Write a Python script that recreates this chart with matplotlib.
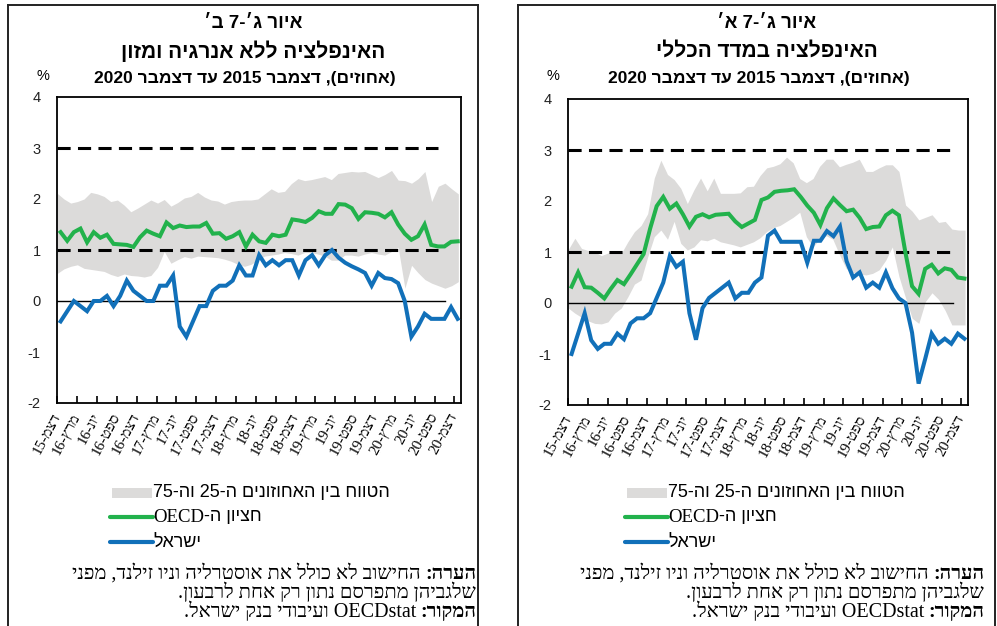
import re
import numpy as np
import matplotlib
matplotlib.use('Agg')
import matplotlib.pyplot as plt
from matplotlib.lines import Line2D
from matplotlib.patches import Rectangle

W, H = 997, 626
plt.rcParams['axes.unicode_minus'] = False
SANS = ['Liberation Sans', 'DejaVu Sans']
SERIF = ['Liberation Serif', 'DejaVu Sans']

GREEN = '#22b24c'
BLUE = '#1170b9'
GRAY = '#dcdbda'

# monthly, Dec 2015 .. Dec 2020 (61 points)
tick_labels = ['דצמ-15', 'מרץ-16', 'יונ-16', 'ספט-16', 'דצמ-16', 'מרץ-17', 'יונ-17',
               'ספט-17', 'דצמ-17', 'מרץ-18', 'יונ-18', 'ספט-18', 'דצמ-18', 'מרץ-19',
               'יונ-19', 'ספט-19', 'דצמ-19', 'מרץ-20', 'יונ-20', 'ספט-20', 'דצמ-20']

# --- panel ב: excluding energy and food
core_israel = [-0.4, -0.2, 0.0, -0.1, -0.2, 0.0, 0.0, 0.1, -0.1, 0.1,
               0.4, 0.2, 0.1, 0.0, 0.0, 0.3, 0.3, 0.5, -0.5, -0.7,
               -0.4, -0.1, -0.1, 0.2, 0.3, 0.3, 0.4, 0.7, 0.5, 0.5,
               0.9, 0.7, 0.8, 0.7, 0.8, 0.8, 0.5, 0.8, 0.9, 0.7,
               0.9, 1.0, 0.85, 0.75, 0.68, 0.62, 0.55, 0.3, 0.55, 0.45,
               0.43, 0.35, 0.0, -0.7, -0.5, -0.25, -0.35, -0.35, -0.35, -0.12, -0.35]
core_oecd = [1.35, 1.18, 1.35, 1.42, 1.15, 1.35, 1.24, 1.3, 1.12, 1.11,
             1.1, 1.06, 1.25, 1.38, 1.32, 1.27, 1.54, 1.43, 1.48, 1.45,
             1.46, 1.46, 1.53, 1.32, 1.33, 1.22, 1.27, 1.35, 1.07, 1.3,
             1.17, 1.14, 1.3, 1.27, 1.3, 1.6, 1.58, 1.55, 1.63, 1.76,
             1.71, 1.71, 1.9, 1.89, 1.82, 1.61, 1.74, 1.73, 1.71, 1.64,
             1.74, 1.5, 1.32, 1.2, 1.27, 1.5, 1.1, 1.07, 1.07, 1.16, 1.17]
core_p75 = [2.11, 2.0, 1.92, 1.95, 2.0, 2.13, 2.1, 2.05, 1.95, 1.98,
            1.88, 1.75, 1.82, 1.9, 1.98, 1.92, 1.99, 1.86, 1.93, 2.02,
            2.05, 2.13, 2.04, 1.98, 1.96, 1.9, 1.95, 1.97, 1.98, 1.98,
            2.0, 2.1, 2.2, 2.13, 2.15, 2.3, 2.4, 2.36, 2.38, 2.41,
            2.44, 2.38, 2.5, 2.52, 2.54, 2.53, 2.54, 2.48, 2.42, 2.48,
            2.56, 2.37, 2.36, 2.31, 2.4, 2.54, 1.95, 2.25, 2.31, 2.2, 2.1]
core_p25 = [0.54, 0.63, 0.68, 0.71, 0.64, 0.62, 0.6, 0.58, 0.52, 0.48,
            0.53, 0.5, 0.49, 0.47, 0.5, 0.66, 0.97, 0.74, 0.81, 0.87,
            0.84, 0.88, 0.87, 0.86, 0.85, 0.82, 0.78, 0.72, 0.68, 0.72,
            0.8, 0.88, 0.9, 0.92, 0.95, 0.93, 0.9, 0.95, 0.95, 0.92,
            0.88, 0.8, 0.8, 0.9, 0.9, 0.88, 0.92, 0.95, 0.92, 0.9,
            0.97, 1.05, 0.25, 0.7, 0.55, 0.42, 0.35, 0.3, 0.25, 0.3, 0.38]

# --- panel א: headline CPI
cpi_israel = [-1.0, -0.6, -0.2, -0.73, -0.9, -0.8, -0.8, -0.6, -0.71, -0.4,
              -0.3, -0.3, -0.2, 0.1, 0.4, 0.92, 0.71, 0.81, -0.2, -0.72,
              -0.1, 0.1, 0.2, 0.3, 0.4, 0.09, 0.2, 0.2, 0.4, 0.5,
              1.32, 1.42, 1.2, 1.2, 1.2, 1.2, 0.79, 1.22, 1.22, 1.41,
              1.31, 1.5, 0.82, 0.5, 0.6, 0.3, 0.4, 0.3, 0.6, 0.29,
              0.09, 0.0, -0.58, -1.58, -1.1, -0.6, -0.8, -0.7, -0.8, -0.6, -0.7]
cpi_oecd = [0.32, 0.6, 0.31, 0.3, 0.2, 0.09, 0.28, 0.45, 0.37, 0.56,
            0.76, 0.96, 1.46, 1.9, 2.08, 1.85, 1.95, 1.74, 1.5, 1.69,
            1.74, 1.68, 1.73, 1.74, 1.75, 1.6, 1.49, 1.56, 1.63, 2.02,
            2.07, 2.18, 2.2, 2.21, 2.23, 2.08, 1.91, 1.77, 1.53, 1.86,
            2.05, 1.92, 1.8, 1.83, 1.67, 1.45, 1.49, 1.5, 1.72, 1.81,
            1.72, 0.98, 0.33, 0.18, 0.67, 0.75, 0.58, 0.68, 0.65, 0.5, 0.48]
cpi_p75 = [1.05, 1.27, 1.07, 1.03, 1.0, 0.93, 0.98, 1.02, 0.97, 1.2,
           1.4, 1.52, 1.75, 2.45, 2.8, 2.52, 2.42, 2.25, 1.95, 2.22,
           2.45, 2.2, 2.45, 2.15, 2.15, 2.15, 2.16, 2.28, 2.29, 2.5,
           2.65, 2.68, 2.73, 2.86, 2.75, 2.44, 2.36, 2.44, 2.68, 2.82,
           2.82, 2.67, 2.72, 2.76, 2.82, 2.58, 2.58, 2.65, 2.71, 2.71,
           2.58, 1.92, 1.8, 1.63, 1.68, 1.73, 1.58, 1.6, 1.45, 1.43, 1.43]
cpi_p25 = [-0.1, -0.2, -0.28, -0.35, -0.4, -0.41, -0.37, -0.2, -0.1, 0.12,
           0.37, 0.45, 0.9, 1.3, 1.43, 1.25, 1.6, 1.17, 1.04, 1.1,
           1.24, 1.22, 1.27, 1.2, 1.17, 1.14, 1.1, 1.15, 1.2, 1.28,
           1.4, 1.48, 1.52, 1.6, 1.68, 1.78, 1.3, 1.1, 1.25, 1.32,
           1.25, 0.95, 0.68, 0.6, 0.57, 0.55, 0.58, 0.65, 0.84, 1.1,
           0.52, 0.1, -0.3, -0.4, 0.03, 0.2, 0.07, -0.15, -0.43, -0.43, -0.43]

MIRROR = {'(': ')', ')': '('}


def vis(s):
    # logical Hebrew -> visual order (RTL paragraph)
    out = []
    for run in re.findall(r'[A-Za-z0-9]+|[^A-Za-z0-9]+', s):
        if re.match(r'[A-Za-z0-9]', run):
            out.append(run)
        else:
            out.append(''.join(MIRROR.get(c, c) for c in reversed(run)))
    return ''.join(reversed(out))


fig = plt.figure(figsize=(W / 100, H / 100), dpi=100)
rend = fig.canvas.get_renderer()


def txt(x, y, s, **kw):
    return fig.text(x / W, 1 - y / H, s, **kw)


def width(t):
    return t.get_window_extent(renderer=rend).width


def hline(x0, x1, y, **kw):
    fig.add_artist(Line2D([x0 / W, x1 / W], [1 - y / H, 1 - y / H], **kw))


def vline(x, y0, y1, **kw):
    fig.add_artist(Line2D([x / W, x / W], [1 - y0 / H, 1 - y1 / H], **kw))


def panel(box, ax_px, titles, p25, p75, oecd, isr, dash_end, zero_end, leg_x, note_r, pct_x):
    bx0, bx1 = box
    frame = dict(color='#222222', lw=1.4)
    hline(bx0, bx1, 5, **frame)
    vline(bx0, 5, 626, **frame)
    vline(bx1, 5, 626, **frame)

    x0, x1, yt, yb = ax_px
    ax = fig.add_axes([x0 / W, 1 - yb / H, (x1 - x0) / W, (yb - yt) / H])
    x = np.arange(len(oecd)) + 0.5
    xb = np.linspace(0, 60.6, len(p25))
    ax.fill_between(xb, p25, p75, color=GRAY, lw=0, zorder=1)
    ax.plot([0, dash_end], [3, 3], color='black', lw=2.2, ls=(0, (4.3, 2.4)), zorder=2)
    ax.plot([0, dash_end], [1, 1], color='black', lw=2.2, ls=(0, (4.3, 2.4)), zorder=2)
    ax.plot([0, zero_end], [0, 0], color='black', lw=1.0, zorder=2)
    ax.plot(x, oecd, color=GREEN, lw=2.9, zorder=3, solid_joinstyle='miter')
    ax.plot(x, isr, color=BLUE, lw=2.9, zorder=4, solid_joinstyle='miter')
    ax.set_xlim(0, 61)
    ax.set_ylim(-2, 4)
    ax.set_yticks(range(-2, 5))
    ax.set_yticklabels([str(v) for v in range(-2, 5)], fontsize=10.5, family=SANS, color='#222222')
    ax.set_xticks(range(0, 61, 3))
    ax.set_xticklabels([vis(s) for s in tick_labels], rotation=62, ha='right', va='center',
                       rotation_mode='anchor', fontsize=11, family=SERIF)
    ax.tick_params(axis='y', length=0, pad=12)
    ax.tick_params(axis='x', direction='in', length=5, width=1.2, pad=8)
    for sp in ax.spines.values():
        sp.set_linewidth(1.3)

    cx = (bx0 + bx1) / 2 + 10
    txt(cx, 24, vis(titles[0]), ha='center', va='center', fontsize=13.5, fontweight='bold', family=SANS)
    txt(cx, 51, vis(titles[1]), ha='center', va='center', fontsize=15, fontweight='bold', family=SANS)
    txt(cx - 8, 78, vis(titles[2]), ha='center', va='center', fontsize=12.5, fontweight='bold', family=SANS)
    txt(pct_x, 76, '%', ha='center', va='center', fontsize=10.5, family=SANS)

    # legend
    fig.add_artist(Rectangle((leg_x / W, 1 - 498 / H), 40 / W, 10 / H, color=GRAY, lw=0))
    txt(leg_x + 41, 492, vis('הטווח בין האחוזונים ה-25 וה-75'), ha='left', va='center',
        fontsize=13, family=SANS)
    hline(leg_x - 2, leg_x + 41, 517, color=GREEN, lw=3, solid_capstyle='round')
    t = txt(leg_x + 41, 517, 'OECD', ha='left', va='center', fontsize=13.5, family=SERIF)
    txt(leg_x + 41 + width(t), 517, vis('חציון ה-'),
        ha='left', va='center', fontsize=13, family=SANS)
    hline(leg_x - 2, leg_x + 41, 542, color=BLUE, lw=3, solid_capstyle='round')
    txt(leg_x + 41, 542, vis('ישראל'), ha='left', va='center', fontsize=13, family=SANS)

    # note
    rows = [('הערה:', 'החישוב לא כולל את אוסטרליה וניו זילנד, מפני'),
            ('', 'שלגביהן מתפרסם נתון רק אחת לרבעון.'),
            ('המקור:', 'OECDstat ועיבודי בנק ישראל.')]
    for k, (b, rest) in enumerate(rows):
        y = 574 + 19 * k
        xr = note_r
        if b:
            t = txt(xr, y, vis(b), ha='right', va='center', fontsize=14.5, fontweight='bold', family=SERIF)
            xr -= width(t) + 4
        txt(xr, y, vis(rest), ha='right', va='center', fontsize=14.5, family=SERIF)


panel((8, 478), (57.3, 461, 97, 403),
      ["איור ג׳-7 ב׳", 'האינפלציה ללא אנרגיה ומזון', '(אחוזים), דצמבר 2015 עד דצמבר 2020'],
      core_p25, core_p75, core_oecd, core_israel, 57.5, 58.6, 112, 476, 43)
panel((518, 995), (568.3, 967.7, 99, 405),
      ["איור ג׳-7 א׳", 'האינפלציה במדד הכללי', '(אחוזים), דצמבר 2015 עד דצמבר 2020'],
      cpi_p25, cpi_p75, cpi_oecd, cpi_israel, 59.2, 58.7, 627, 984, 553)

fig.savefig('out.png', dpi=100)
